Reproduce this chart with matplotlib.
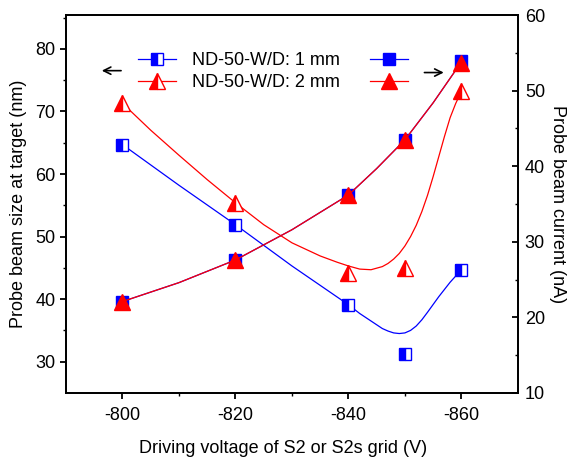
import matplotlib
matplotlib.use('Agg')
import matplotlib.pyplot as plt
from matplotlib.lines import Line2D

plt.rcParams['font.family'] = ['Liberation Sans', 'DejaVu Sans']
plt.rcParams['font.size'] = 13
plt.rcParams['axes.unicode_minus'] = False

# measured points
voltage = [-800, -820, -840, -850, -860]
size_1mm = [64.7, 51.9, 39.1, 31.3, 44.7]        # nm, left axis
size_2mm = [71.3, 55.4, 44.1, 44.9, 73.2]        # nm, left axis
current_1mm = [22.1, 27.6, 36.2, 43.5, 53.9]     # nA, right axis
current_2mm = [22.1, 27.6, 36.2, 43.5, 53.7]     # nA, right axis

# smooth fit curves
fit1_v = [-800, -810, -820, -830, -840, -842, -844, -845, -846, -847, -848, -849,
          -850, -851, -852, -853, -854, -856, -858, -860]
fit1_size = [64.7, 58.2, 51.9, 45.3, 39.1, 37.7, 36.5, 35.9, 35.3, 34.9, 34.6, 34.5,
             34.6, 35.0, 35.7, 36.7, 37.9, 40.4, 42.7, 44.7]
fit2_v = [-800, -805, -810, -815, -820, -825, -830, -835, -838, -840, -842, -844,
          -846, -847, -848, -849, -850, -851, -852, -853, -854, -855, -856, -857,
          -858, -859, -860]
fit2_size = [71.3, 67.0, 63.0, 59.1, 55.4, 51.9, 49.0, 46.9, 45.9, 45.3, 44.8, 44.7,
             45.2, 45.7, 46.4, 47.3, 48.5, 50.0, 51.8, 54.0, 56.6, 59.6, 62.8, 66.0,
             69.0, 71.3, 73.2]
cur_v = [-800, -810, -820, -830, -840, -845, -850, -855, -860]
cur_fit = [22.1, 24.6, 27.6, 31.6, 36.2, 39.7, 43.5, 48.4, 53.8]

labels = ['ND-50-W/D: 1 mm', 'ND-50-W/D: 2 mm']
BLUE = '#0000ff'
RED = '#ff0000'

fig = plt.figure(figsize=(5.71, 4.58), dpi=100)
ax = fig.add_axes([0.1156, 0.142, 0.7914, 0.825])
ax2 = ax.twinx()

# beam size (left)
ax.plot(fit1_v, fit1_size, color=BLUE, lw=0.9)
ax.plot(fit2_v, fit2_size, color=RED, lw=0.9)
ax.plot(voltage, size_1mm, ls='none', marker='s', ms=8.5, mfc=BLUE, mec=BLUE,
        fillstyle='left', mfcalt='white', mew=1.0)
ax.plot(voltage, size_2mm, ls='none', marker='^', ms=11, mfc=RED, mec=RED,
        fillstyle='left', mfcalt='white', mew=1.0)

# beam current (right)
ax2.plot(cur_v, cur_fit, color=BLUE, lw=0.9)
ax2.plot(voltage, current_1mm, ls='none', marker='s', ms=8.5, color=BLUE)
ax2.plot(cur_v, cur_fit, color=RED, lw=0.9)
ax2.plot(voltage, current_2mm, ls='none', marker='^', ms=11, color=RED)

ax.set_xlim(-790, -870)
ax.set_ylim(25, 85.4)
ax2.set_ylim(10, 60)
ax.set_xticks([-800, -820, -840, -860])
ax.set_xticks([-810, -830, -850], minor=True)
ax.set_yticks([30, 40, 50, 60, 70, 80])
ax.set_yticks([35, 45, 55, 65, 75, 85], minor=True)
ax2.set_yticks([10, 20, 30, 40, 50, 60])
ax2.set_yticks([15, 25, 35, 45, 55], minor=True)

for a in (ax, ax2):
    for s in a.spines.values():
        s.set_linewidth(1.3)
ax.tick_params(which='major', direction='out', length=4, width=1.3)
ax.tick_params(which='minor', direction='out', length=2.5, width=1.0)
ax.tick_params(axis='x', pad=6)
ax2.tick_params(which='major', direction='in', length=4, width=1.3, pad=5)
ax2.tick_params(which='minor', direction='in', length=2.5, width=1.0)

ax.set_xlabel('Driving voltage of S2 or S2s grid (V)')
ax.xaxis.set_label_coords(0.48, -0.125)
ax.set_ylabel('Probe beam size at target (nm)', labelpad=6)
ax2.set_ylabel('Probe beam current (nA)', rotation=270, labelpad=15)

# legend: half-filled markers left of text, solid markers right of text
h_open = [
    Line2D([], [], color=BLUE, lw=0.9, marker='s', ms=8.5, mfc=BLUE, mec=BLUE,
           fillstyle='left', mfcalt='white'),
    Line2D([], [], color=RED, lw=0.9, marker='^', ms=11, mfc=RED, mec=RED,
           fillstyle='left', mfcalt='white'),
]
h_full = [
    Line2D([], [], color=BLUE, lw=0.9, marker='s', ms=8.5),
    Line2D([], [], color=RED, lw=0.9, marker='^', ms=11),
]
leg1 = ax2.legend(h_open, labels, loc='center left', bbox_to_anchor=(0.16, 0.85),
                  frameon=False, handlelength=2.1, handletextpad=0.9,
                  labelspacing=0.3, borderpad=0, borderaxespad=0)
ax2.add_artist(leg1)
ax2.legend(h_full, ['', ''], loc='center left', bbox_to_anchor=(0.672, 0.85),
           frameon=False, handlelength=2.1, handletextpad=0,
           labelspacing=0.3, borderpad=0, borderaxespad=0)

ax.annotate('', xy=(0.073, 0.853), xytext=(0.128, 0.853), xycoords='axes fraction',
            arrowprops=dict(arrowstyle='->', color='black', lw=1.2))
ax.annotate('', xy=(0.842, 0.848), xytext=(0.787, 0.848), xycoords='axes fraction',
            arrowprops=dict(arrowstyle='->', color='black', lw=1.2))

fig.savefig('out.png', dpi=100)
